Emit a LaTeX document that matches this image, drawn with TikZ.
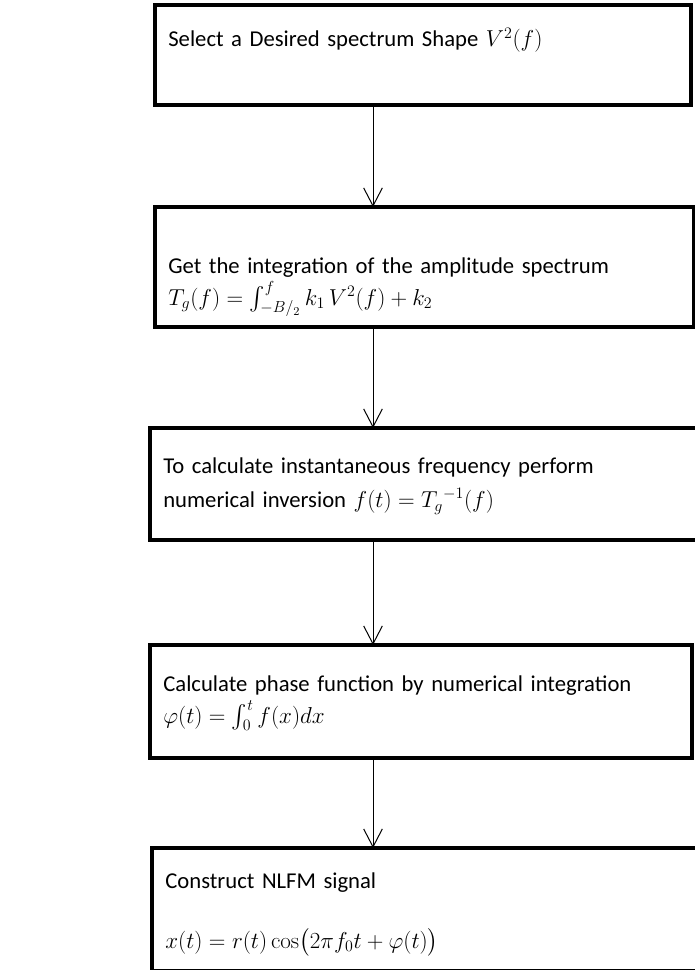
\documentclass[tikz,border=0pt]{standalone}
\usepackage{amsmath}
\usepackage[no-math]{fontspec}
\setmainfont{Carlito}
\usetikzlibrary{arrows.meta}

\newcommand{\mth}[1]{{\fontsize{18.5}{24}\selectfont$#1$}}

\begin{document}
\begin{tikzpicture}[x=0.75pt, y=-0.75pt,
  stepbox/.style={draw=black, line width=3pt, inner xsep=10pt, inner ysep=0pt,
                  outer sep=0pt, anchor=north west, align=left,
                  font=\fontsize{17}{24}\selectfont},
  arrow/.style={-{Straight Barb[length=13.5pt, width=14pt]}, line width=0.75pt, color=black}
]
\useasboundingbox (0,0) rectangle (695,970);
\clip (0,0) rectangle (695,970);

\node[stepbox, text width=382pt, text height=31.5pt, text depth=43.5pt] (b1) at (155,5)
  {Select a Desired spectrum Shape \mth{V^2(f)}};
\node[stepbox, text width=384pt, text height=49.5pt, text depth=40.5pt] (b2) at (155,207)
  {Get the integration of the amplitude spectrum\\
   \mth{T_g(f)=\int_{-B/_{2}}^{f} k_1\,V^2(f)+k_2}};
\node[stepbox, text width=396pt, text height=33.75pt, text depth=50.25pt] (b3) at (150,428)
  {To calculate instantaneous frequency perform\\[2pt]
   numerical inversion \mth{f(t)={T_g}^{-1}(f)}};
\node[stepbox, text width=386.5pt, text height=34.5pt, text depth=50.25pt] (b4) at (150,645)
  {Calculate phase function by numerical integration\\
   \mth{\varphi(t)=\int_0^t f(x)dx}};
\node[stepbox, text width=394.75pt, text height=30pt, text depth=62.6pt] (b5) at (152,848)
  {Construct NLFM signal\\[21pt]
   \mth{x(t)=r(t)\cos\bigl(2\pi f_0t+\varphi(t)\bigr)}};

\coordinate (ax) at (373,0);
\draw[arrow] (b1.south -| ax) -- (b2.north -| ax);
\draw[arrow] (b2.south -| ax) -- (b3.north -| ax);
\draw[arrow] (b3.south -| ax) -- (b4.north -| ax);
\draw[arrow] (b4.south -| ax) -- (b5.north -| ax);

\end{tikzpicture}
\end{document}
